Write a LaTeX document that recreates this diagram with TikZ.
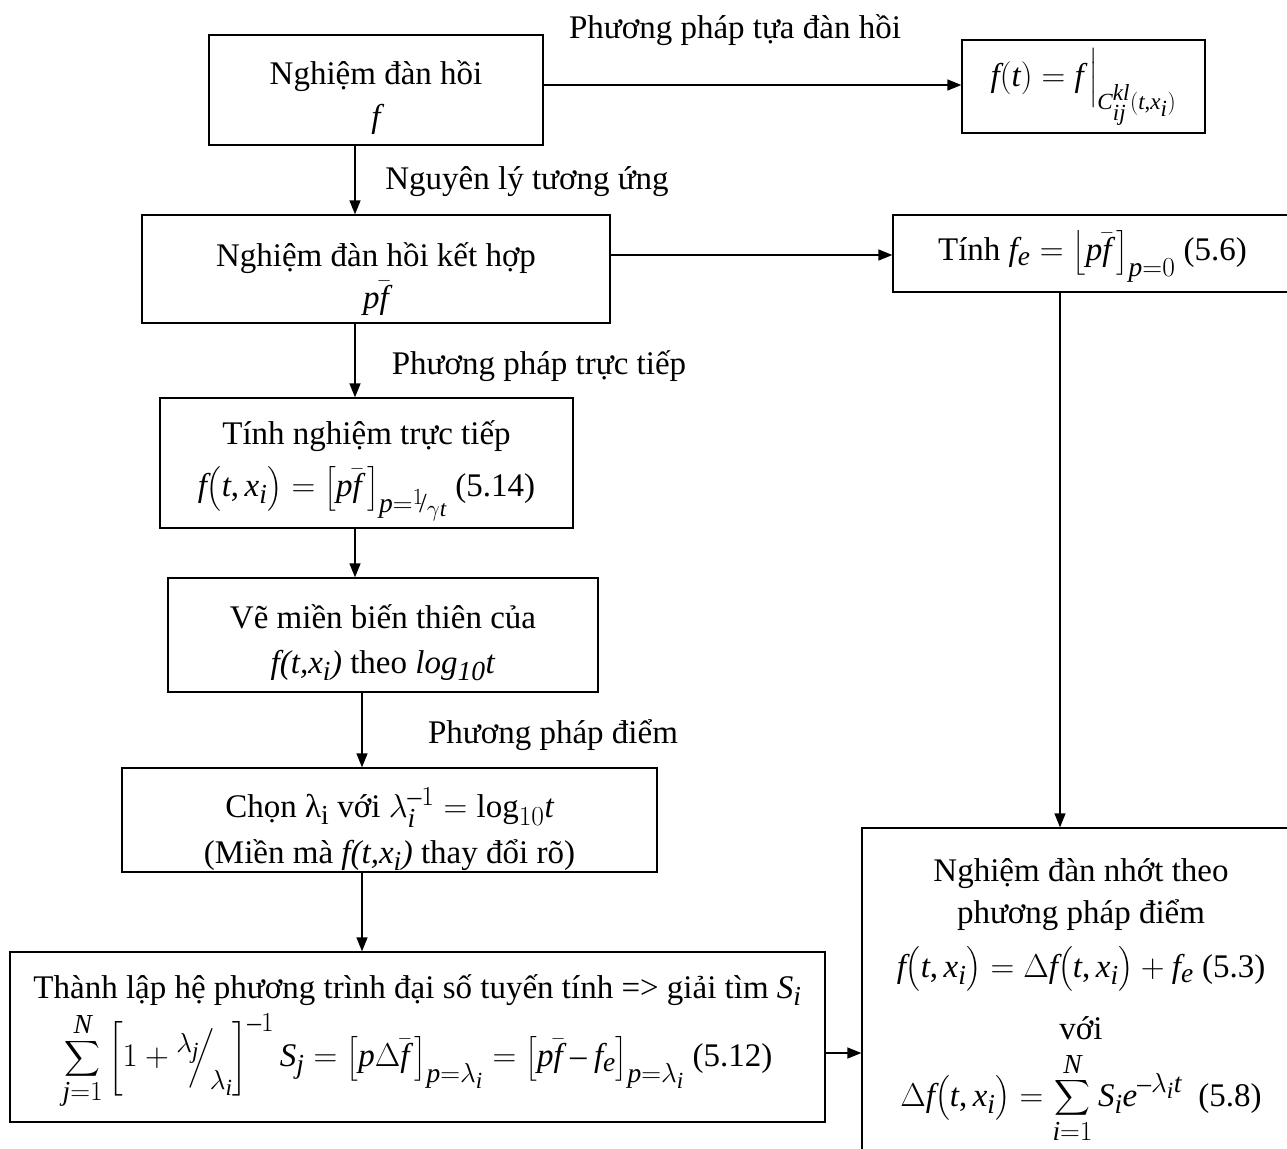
\RequirePackage{fix-cm}
\documentclass[tikz,border=0pt]{standalone}
\usepackage{amsmath}
\usepackage{exscale}
\usepackage{fontspec}
\setmainfont{Liberation Serif}
\usepackage[italic]{mathastext}
\usetikzlibrary{arrows.meta}
\newcommand{\slfrac}[2]{{}^{#1}\!\!\Big/_{\!#2}}
\newcommand{\up}[1]{\rule{0pt}{#1}}
\begin{document}
\begin{tikzpicture}[x=1pt,y=-1pt,
  font=\fontsize{33}{40}\selectfont,
  box/.style={draw, line width=1.3pt, inner sep=0pt, align=center},
  lbl/.style={inner sep=0pt, anchor=center},
  arr/.style={line width=1.3pt, -{Triangle[length=14pt,width=11pt]}}]
\useasboundingbox (0,0) rectangle (1287,1148);
\clip (0,0) rectangle (1287,1148);
\fill[white] (0,0) rectangle (1287,1148);

% left column
\node[box, minimum width=334pt, minimum height=110pt] (b1) at (376,90)
  {\up{40pt}Nghiệm đàn hồi\\[3pt] $f$};
\node[box, minimum width=468pt, minimum height=108pt] (b2) at (376,269)
  {\up{44pt}Nghiệm đàn hồi kết hợp\\[2pt] $p\bar f$};
\node[box, minimum width=413pt, minimum height=130pt] (b3) at (366.5,463)
  {\up{40pt}Tính nghiệm trực tiếp\\[12pt] $f\bigl(t,x_i\bigr)=\bigl[p\bar f\,\bigr]_{p={}^1\!/_{\gamma t}}$ (5.14)};
\node[box, minimum width=430pt, minimum height=114pt] (b4) at (383,635)
  {\up{40pt}Vẽ miền biến thiên của\\[5pt] \textit{f(t,x\textsubscript{i})} theo \textit{log\textsubscript{10}t}};
\node[box, minimum width=535pt, minimum height=104pt] (b5) at (389.5,820)
  {\up{48pt}Chọn λ\textsubscript{i} với $\lambda_i^{-1}=\mathrm{log}_{10}t$\\[6pt] (Miền mà \textit{f(t,x\textsubscript{i})} thay đổi rõ)};
\node[box, minimum width=815pt, minimum height=170pt] (b6) at (417.5,1037)
  {\up{34pt}Thành lập hệ phương trình đại số tuyến tính => giải tìm $S_i$\\[6pt]
   $\displaystyle\sum_{j=1}^{N}\left[1+\slfrac{\lambda_j}{\lambda_i}\right]^{-1}S_j=\bigl[p\Delta\bar f\,\bigr]_{p=\lambda_i}=\bigl[p\bar f-f_e\bigr]_{p=\lambda_i}$ (5.12)};

% right column
\node[box, minimum width=243pt, minimum height=93pt] (r1) at (1083.5,86.5)
  {$f(t)=f\,\Big|_{\scriptscriptstyle C_{ij}^{kl}(t,x_i)}$};
\node[box, minimum width=407pt, minimum height=77pt] (r2) at (1096.5,253.5)
  {\up{36pt}Tính $f_e=\bigl\lfloor p\bar f\,\bigr]_{p=0}$ (5.6)\hspace*{8pt}};
\node[box, minimum width=438pt, minimum height=332pt] (r3) at (1081,994)
  {\up{40pt}Nghiệm đàn nhớt theo\\[2pt] phương pháp điểm\\[14pt]
   $f\bigl(t,x_i\bigr)=\Delta f\bigl(t,x_i\bigr)+f_e$ (5.3)\\[22pt]
   với\\[12pt]
   $\displaystyle\Delta f\bigl(t,x_i\bigr)=\sum_{i=1}^{N}S_ie^{-\lambda_it}$ \ (5.8)\\[0pt]};

% labels
\node[lbl] (l1) at (735,30) {Phương pháp tựa đàn hồi};
\node[lbl] (l2) at (527,182) {Nguyên lý tương ứng};
\node[lbl] (l3) at (539,366) {Phương pháp trực tiếp};
\node[lbl] (l4) at (553,735) {Phương pháp điểm};

% connectors
\draw[arr] (b1.east |- 0,85) -- (r1.west |- 0,85);
\draw[arr] (b1.south -| 355,0) -- (b2.north -| 355,0);
\draw[arr] (b2.east |- 0,255) -- (r2.west |- 0,255);
\draw[arr] (r2.south -| 1060,0) -- (r3.north -| 1060,0);
\draw[arr] (b2.south -| 355,0) -- (b3.north -| 355,0);
\draw[arr] (b3.south -| 355,0) -- (b4.north -| 355,0);
\draw[arr] (b4.south -| 362,0) -- (b5.north -| 362,0);
\draw[arr] (b5.south -| 362,0) -- (b6.north -| 362,0);
\draw[arr] (b6.east |- 0,1053) -- (r3.west |- 0,1053);
\end{tikzpicture}
\end{document}
